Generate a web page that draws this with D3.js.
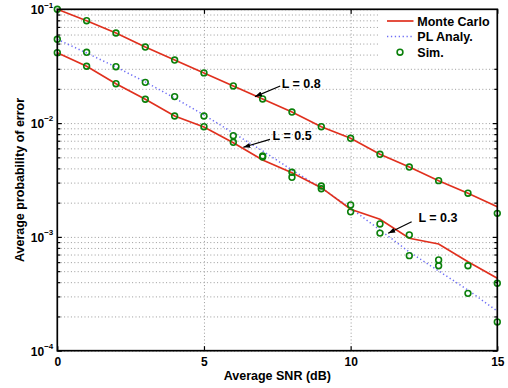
<!DOCTYPE html>
<html>
<head>
<meta charset="utf-8">
<script src="https://cdnjs.cloudflare.com/ajax/libs/d3/7.8.5/d3.min.js"></script>
<style>
  html, body { margin: 0; padding: 0; background: #fff; }
  svg { display: block; font-family: "Liberation Sans", Arial, sans-serif; font-weight: bold; }
</style>
</head>
<body>
<svg id="chart" width="508" height="388"></svg>
<script>
// values (probability of error vs SNR in dB)
const snr = [0, 1, 2, 3, 4, 5, 6, 7, 8, 9, 10, 11, 12, 13, 14, 15];
const mcHigh = [0.1, 0.0794, 0.0619, 0.0466, 0.0358, 0.0276, 0.0212, 0.0163, 0.0125, 0.0093, 0.00735, 0.00532, 0.00411, 0.00312, 0.00242, 0.00184];
const mcLow = [0.0416, 0.0316, 0.0222, 0.0162, 0.01155, 0.00924, 0.00673, 0.00474, 0.00366, 0.00271, 0.00175, 0.00143, 0.000972, 0.000866, 0.000606, 0.000433];
const plAnaly = [0.0545, 0.0413, 0.0311, 0.0230, 0.0166, 0.0118, 0.00818, 0.00569, 0.00387, 0.00269, 0.00179, 0.00115, 0.000737, 0.000502, 0.000341, 0.000223];
const simHigh = [0.1, 0.0794, 0.0619, 0.0466, 0.0358, 0.0276, 0.0212, 0.0163, 0.0125, 0.0093, 0.00735, 0.00532, 0.00411, 0.00312, 0.00242, 0.00161];
const simMid = [0.0416, 0.0316, 0.0222, 0.0162, 0.01155, 0.0093, 0.00678, 0.00514, 0.0037, 0.00265, 0.00191, 0.0013, 0.00104, 0.000627, 0.000558, 0.000391];
const simLow = [0.0545, 0.0419, 0.0313, 0.0228, 0.0171, 0.01155, 0.00775, 0.00504, 0.00334, 0.0028, 0.00166, 0.00108, 0.000684, 0.000558, 0.000319, 0.000179];

const xTicks = [0, 5, 10, 15];
const yTicks = [1e-1, 1e-2, 1e-3, 1e-4];
const yTickExp = ["\u22121", "\u22122", "\u22123", "\u22124"];

// annotation text + arrow, in data units
const notes = [
  { label: "L = 0.8", tx: 7.65, ty: 0.0203, ax: 7.6, ay: 0.0212, hx: 6.74, hy: 0.0171 },
  { label: "L = 0.5", tx: 7.34, ty: 0.0071, ax: 7.25, ay: 0.0072, hx: 6.34, hy: 0.00613 },
  { label: "L = 0.3", tx: 12.31, ty: 0.00134, ax: 12.08, ay: 0.00136, hx: 11.28, hy: 0.001075 }
];

const mLeft = 57.3, mRight = 497.3, mTop = 9.3, mBottom = 350.7;
const width = mRight - mLeft, height = mBottom - mTop;

const svg = d3.select("#chart");

svg.append("defs").append("marker")
  .attr("id", "arrow")
  .attr("viewBox", "0 0 10 10")
  .attr("refX", 10).attr("refY", 5)
  .attr("markerWidth", 7).attr("markerHeight", 7)
  .attr("markerUnits", "userSpaceOnUse")
  .attr("orient", "auto")
  .append("path").attr("d", "M0,1.5L10,5L0,8.5Z").attr("fill", "#000");

const g = svg.append("g").attr("transform", `translate(${mLeft},${mTop})`);

const x = d3.scaleLinear().domain([0, 15]).range([0, width]);
const y = d3.scaleLog().domain([1e-4, 1e-1]).range([height, 0]);

// grid
g.append("g")
  .call(d3.axisLeft(y).tickValues(y.ticks()).tickSize(-width).tickFormat(""))
  .call(s => s.select(".domain").remove())
  .selectAll("line")
  .attr("stroke", "#9a9a9a").attr("stroke-dasharray", "1,2.4");

g.append("g")
  .attr("transform", `translate(0,${height})`)
  .call(d3.axisBottom(x).tickValues([5, 10]).tickSize(-height).tickFormat(""))
  .call(s => s.select(".domain").remove())
  .selectAll("line")
  .attr("stroke", "#9a9a9a").attr("stroke-dasharray", "1,2.4");

// inner tick marks
const minor = y.ticks().filter(v => !yTicks.some(t => Math.abs(t - v) < t * 1e-6));
const marks = g.append("g");
marks.append("g").call(d3.axisLeft(y).tickValues(yTicks).tickSize(-4.5).tickFormat(""));
marks.append("g").call(d3.axisLeft(y).tickValues(minor).tickSize(-3).tickFormat(""));
marks.append("g").attr("transform", `translate(${width},0)`)
  .call(d3.axisRight(y).tickValues(yTicks).tickSize(-4.5).tickFormat(""));
marks.append("g").attr("transform", `translate(${width},0)`)
  .call(d3.axisRight(y).tickValues(minor).tickSize(-3).tickFormat(""));
marks.append("g").attr("transform", `translate(0,${height})`)
  .call(d3.axisBottom(x).tickValues(xTicks).tickSize(-4.5).tickFormat(""));
marks.append("g")
  .call(d3.axisTop(x).tickValues(xTicks).tickSize(-4.5).tickFormat(""));
marks.selectAll(".domain").remove();
marks.selectAll(".tick line").attr("stroke", "#000").attr("stroke-width", 1.2);

// tick labels
g.append("g")
  .attr("transform", `translate(0,${height})`)
  .call(d3.axisBottom(x).tickValues(xTicks).tickSize(0).tickPadding(6.8).tickFormat(d3.format("d")))
  .call(s => s.select(".domain").remove())
  .attr("font-family", null).attr("font-size", 12)
  .selectAll("text").attr("fill", "#000");

const yLab = g.append("g")
  .call(d3.axisLeft(y).tickValues(yTicks).tickSize(0).tickPadding(4).tickFormat(""))
  .call(s => s.select(".domain").remove());
yLab.attr("font-family", null).attr("font-size", 12);
yLab.selectAll(".tick text")
  .attr("fill", "#000")
  .attr("dy", "0.36em")
  .each(function (d, i) {
    const t = d3.select(this);
    t.append("tspan").text("10");
    t.append("tspan").attr("dy", -6.5).attr("font-size", 8).text(yTickExp[i]);
  });

// series
const line = d3.line().x((d, i) => x(snr[i])).y(d => y(d));

g.append("path").datum(plAnaly)
  .attr("fill", "none").attr("stroke", "#6e6ef5").attr("stroke-width", 1.5)
  .attr("stroke-dasharray", "1.3,2.6").attr("d", line);

[mcHigh, mcLow].forEach(s => {
  g.append("path").datum(s)
    .attr("fill", "none").attr("stroke", "#e0301e").attr("stroke-width", 1.7)
    .attr("d", line);
});

[simHigh, simMid, simLow].forEach(s => {
  g.append("g").selectAll("circle").data(s).join("circle")
    .attr("cx", (d, i) => x(snr[i])).attr("cy", d => y(d)).attr("r", 2.9)
    .attr("fill", "none").attr("stroke", "#0b800b").attr("stroke-width", 1.6);
});

// annotations
notes.forEach(n => {
  g.append("line")
    .attr("x1", x(n.ax)).attr("y1", y(n.ay))
    .attr("x2", x(n.hx)).attr("y2", y(n.hy))
    .attr("stroke", "#000").attr("stroke-width", 1.2)
    .attr("marker-end", "url(#arrow)");
  g.append("text")
    .attr("x", x(n.tx)).attr("y", y(n.ty))
    .attr("font-size", 12.5).attr("fill", "#000")
    .text(n.label);
});

// legend
const lg = svg.append("g");
lg.append("rect").attr("x", 380).attr("y", mTop).attr("width", mRight - 380).attr("height", 54).attr("fill", "#fff");
const rows = [
  { label: "Monte Carlo", y: 21, kind: "mc" },
  { label: "PL Analy.", y: 36.6, kind: "pl" },
  { label: "Sim.", y: 52.2, kind: "sim" }
];
rows.forEach(r => {
  if (r.kind === "mc") {
    lg.append("line").attr("x1", 387).attr("x2", 413.5).attr("y1", r.y).attr("y2", r.y)
      .attr("stroke", "#e0301e").attr("stroke-width", 1.7);
  } else if (r.kind === "pl") {
    lg.append("line").attr("x1", 387).attr("x2", 413.5).attr("y1", r.y).attr("y2", r.y)
      .attr("stroke", "#6e6ef5").attr("stroke-width", 1.5).attr("stroke-dasharray", "1.3,2.6");
  } else {
    lg.append("circle").attr("cx", 400).attr("cy", r.y).attr("r", 2.9)
      .attr("fill", "none").attr("stroke", "#0b800b").attr("stroke-width", 1.6);
  }
  lg.append("text").attr("x", 417.3).attr("y", r.y).attr("dy", "0.36em")
    .attr("font-size", 12.5).attr("fill", "#000").text(r.label);
});

// frame
svg.append("rect")
  .attr("x", mLeft).attr("y", mTop).attr("width", width).attr("height", height)
  .attr("fill", "none").attr("stroke", "#000").attr("stroke-width", 1.7);

// axis titles
svg.append("text")
  .attr("x", mLeft + width / 2).attr("y", 380)
  .attr("text-anchor", "middle").attr("font-size", 12.5)
  .text("Average SNR (dB)");

svg.append("text")
  .attr("transform", `translate(24,${mTop + height / 2}) rotate(-90)`)
  .attr("text-anchor", "middle").attr("font-size", 12.5)
  .text("Average probability of error");
</script>
</body>
</html>
